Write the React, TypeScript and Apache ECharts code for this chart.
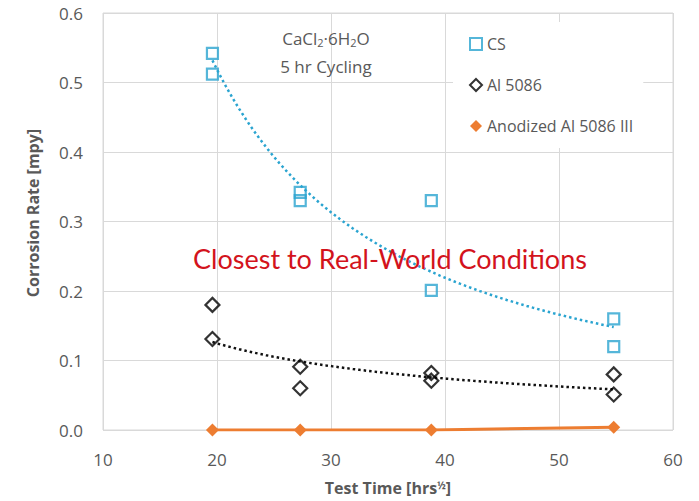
import React, { useEffect, useRef } from "react";
import * as echarts from "echarts";

// ---- Data ----
const testTimes = [19.6, 27.3, 38.8, 54.8]; // hrs^1/2
const csRunA = [0.542, 0.342, 0.33, 0.16];
const csRunB = [0.512, 0.33, 0.201, 0.12];
const alRunA = [0.18, 0.091, 0.082, 0.08];
const alRunB = [0.131, 0.06, 0.071, 0.051];
const anodizedRate = [0.0, 0.0, 0.0, 0.004];

const seriesNames = ["CS", "Al 5086", "Anodized Al 5086 III"];
const yAxisTitle = "Corrosion Rate [mpy]";
const xAxisTitle = "Test Time [hrs{sup|½}]";
const annotationLine1 = "CaCl{sub|2}·6H{sub|2}O";
const annotationLine2 = "5 hr Cycling";
const calloutText = "Closest to Real-World Conditions";

const GREY = "#595959";
const BLUE = "#2aa4d0";
const ORANGE = "#ed7d31";
const RED = "#d3131c";
const FONT = "'Open Sans', 'Noto Sans', sans-serif";

function pairs(xs: number[], ys: number[]): number[][] {
  return xs.map((x, i) => [x, ys[i]]);
}

// Least-squares power trendline (y = a * x^b), as the spreadsheet trendline
function powerTrend(points: number[][], steps: number): number[][] {
  const lx = points.map((p) => Math.log(p[0]));
  const ly = points.map((p) => Math.log(p[1]));
  const n = points.length;
  const mx = lx.reduce((s, v) => s + v, 0) / n;
  const my = ly.reduce((s, v) => s + v, 0) / n;
  let sxy = 0;
  let sxx = 0;
  for (let i = 0; i < n; i++) {
    sxy += (lx[i] - mx) * (ly[i] - my);
    sxx += (lx[i] - mx) * (lx[i] - mx);
  }
  const b = sxy / sxx;
  const a = Math.exp(my - b * mx);
  const xmin = Math.min(...points.map((p) => p[0]));
  const xmax = Math.max(...points.map((p) => p[0]));
  const out: number[][] = [];
  for (let i = 0; i <= steps; i++) {
    const x = xmin + ((xmax - xmin) * i) / steps;
    out.push([x, a * Math.pow(x, b)]);
  }
  return out;
}

export default function App() {
  const ref = useRef<HTMLDivElement>(null);

  useEffect(() => {
    if (!ref.current) return;
    const chart = echarts.init(ref.current, undefined, { renderer: "svg" });

    const csPoints = [...pairs(testTimes, csRunA), ...pairs(testTimes, csRunB)];
    const alPoints = [...pairs(testTimes, alRunA), ...pairs(testTimes, alRunB)];

    chart.setOption({
      animation: false,
      backgroundColor: "#ffffff",
      grid: {
        left: 103,
        right: 26,
        top: 13,
        bottom: 68,
        show: true,
        borderColor: "#d9d9d9",
        borderWidth: 1,
      },
      xAxis: {
        type: "value",
        min: 10,
        max: 60,
        interval: 10,
        axisLine: { show: false },
        axisTick: { show: false },
        splitLine: { show: true, lineStyle: { color: "#d9d9d9", width: 1 } },
        axisLabel: { color: GREY, fontSize: 17, fontFamily: FONT, margin: 21 },
        name: xAxisTitle,
        nameLocation: "middle",
        nameGap: 50,
        nameTextStyle: {
          color: GREY,
          fontSize: 16,
          fontWeight: "bold",
          fontFamily: FONT,
          rich: {
            sup: {
              fontSize: 10,
              fontWeight: "bold",
              color: GREY,
              fontFamily: FONT,
              verticalAlign: "top",
            },
          },
        },
      },
      yAxis: {
        type: "value",
        min: 0,
        max: 0.6,
        interval: 0.1,
        axisLine: { show: false },
        axisTick: { show: false },
        splitLine: { show: true, lineStyle: { color: "#d9d9d9", width: 1 } },
        axisLabel: {
          color: GREY,
          fontSize: 17,
          fontFamily: FONT,
          margin: 20,
          formatter: (v: number) => v.toFixed(1),
        },
      },
      legend: {
        orient: "vertical",
        left: 453,
        top: 22,
        width: 215,
        padding: [14, 10, 14, 16],
        backgroundColor: "#ffffff",
        itemGap: 25,
        itemWidth: 12,
        itemHeight: 12,
        textStyle: { color: GREY, fontSize: 16, fontFamily: FONT, lineHeight: 16 },
        data: [
          { name: seriesNames[0], icon: "rect" },
          { name: seriesNames[1], icon: "diamond" },
          { name: seriesNames[2], icon: "diamond" },
        ],
      },
      graphic: [
        {
          type: "text",
          x: 33,
          y: 213,
          rotation: Math.PI / 2,
          style: {
            text: yAxisTitle,
            fill: GREY,
            fontSize: 16,
            fontWeight: "bold",
            fontFamily: FONT,
            align: "center",
            verticalAlign: "middle",
          },
          z: 10,
        },
        {
          type: "text",
          x: 326,
          y: 38,
          style: {
            text: annotationLine1,
            fill: GREY,
            fontSize: 17,
            fontFamily: FONT,
            align: "center",
            verticalAlign: "middle",
            rich: {
              sub: {
                fontSize: 11,
                fill: GREY,
                fontFamily: FONT,
                padding: [9, 0, 0, 0],
              },
            },
          },
          z: 10,
        },
        {
          type: "text",
          x: 326,
          y: 66,
          style: {
            text: annotationLine2,
            fill: GREY,
            fontSize: 17,
            fontFamily: FONT,
            align: "center",
            verticalAlign: "middle",
          },
          z: 10,
        },
        {
          type: "text",
          x: 390,
          y: 258,
          style: {
            text: calloutText,
            fill: RED,
            fontSize: 27,
            fontFamily: "Lato, 'Noto Sans', sans-serif",
            align: "center",
            verticalAlign: "middle",
          },
          z: 10,
        },
      ],
      series: [
        {
          name: seriesNames[0],
          type: "scatter",
          symbol: "rect",
          symbolSize: 11,
          itemStyle: { color: "rgba(255,255,255,0)", borderColor: BLUE, borderWidth: 2.2 },
          data: csPoints,
          z: 3,
        },
        {
          name: seriesNames[1],
          type: "scatter",
          symbol: "diamond",
          symbolSize: 14,
          itemStyle: { color: "rgba(255,255,255,0)", borderColor: "#000000", borderWidth: 2.2 },
          data: alPoints,
          z: 3,
        },
        {
          name: seriesNames[2],
          type: "line",
          symbol: "diamond",
          symbolSize: 13,
          showAllSymbol: true,
          itemStyle: { color: ORANGE },
          lineStyle: { color: ORANGE, width: 3 },
          data: pairs(testTimes, anodizedRate),
          z: 4,
        },
        {
          name: "CS trend",
          type: "line",
          showSymbol: false,
          silent: true,
          lineStyle: { color: BLUE, width: 2.5, type: [2.5, 3] },
          data: powerTrend(csPoints, 60),
          z: 2,
        },
        {
          name: "Al 5086 trend",
          type: "line",
          showSymbol: false,
          silent: true,
          lineStyle: { color: "#111111", width: 2.5, type: [2.5, 3] },
          data: powerTrend(alPoints, 60),
          z: 2,
        },
      ],
    });

    return () => chart.dispose();
  }, []);

  return (
    <div
      ref={ref}
      style={{ position: "fixed", left: 0, top: 0, width: 699, height: 501 }}
    />
  );
}
